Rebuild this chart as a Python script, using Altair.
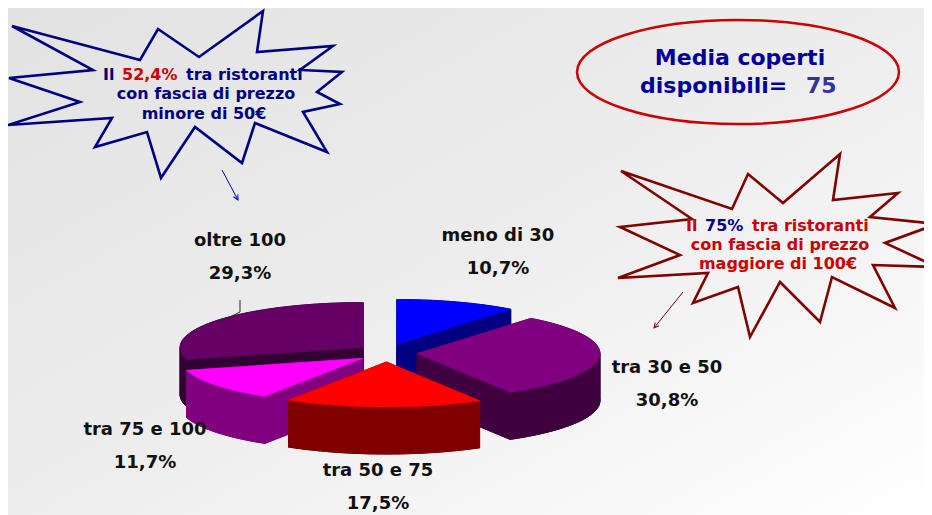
import altair as alt
import pandas as pd

# ---------------- data ----------------
categories = ["meno di 30", "tra 30 e 50", "tra 50 e 75", "tra 75 e 100", "oltre 100"]
shares = [10.7, 30.8, 17.5, 11.7, 29.3]
slice_order = [0, 1, 2, 3, 4]

# ---------------- styles / layout ----------------
TOP = ["#0000FF", "#800080", "#FF0000", "#FF00FF", "#660066"]
SIDE = ["#000080", "#400040", "#800000", "#800080", "#330033"]
DRAW_ORDER = [0, 4, 1, 3, 2]          # back to front
LABEL_X = [498, 667, 378, 145, 240]   # label centre x (page px)
LABEL_Y = [241, 373, 476, 435, 246]   # baseline of category line
LINE_GAP = 33

W, H = 916, 507
CX, CY, RX, RY = 387, 353, 183, 45
EX, EY = 30, 9
DEPTH = 47
N = 60
LABEL_FONT = "DejaVu Sans"
ANN_FONT = "DejaVu Sans"

X = alt.Scale(domain=[8, 8 + W], nice=False, zero=False)
Y = alt.Scale(domain=[8, 8 + H], nice=False, zero=False, reverse=True)

df = pd.DataFrame({"cat": categories, "share": shares, "idx": slice_order})
dummy = pd.DataFrame({"d": [0]})


def geom(ch):
    return (ch.transform_joinaggregate(total="sum(share)")
            .transform_window(cum="sum(share)", sort=[alt.SortField("idx")], frame=[None, 0])
            .transform_calculate(a0="2*PI*(datum.cum-datum.share)/datum.total")
            .transform_calculate(a1="2*PI*datum.cum/datum.total")
            .transform_calculate(mid="(datum.a0+datum.a1)/2")
            .transform_calculate(ox=f"{CX}+{EX}*sin(datum.mid)")
            .transform_calculate(oy=f"{CY}-{EY}*cos(datum.mid)"))


ANG = f"(datum.a0+(datum.k-1)*(datum.a1-datum.a0)/{N})"
APEX = f"(datum.k==0 || datum.k=={N + 2})"
VX = f"{APEX} ? datum.ox : datum.ox+{RX}*sin({ANG})"


def vy(dz):
    return f"({APEX} ? datum.oy : datum.oy-{RY}*cos({ANG})) + {dz}"


def enc(ch, **extra):
    return ch.encode(x=alt.X("px:Q", scale=X, axis=None),
                     y=alt.Y("py:Q", scale=Y, axis=None), **extra)


layers = []

# background gradient
layers.append(
    alt.Chart(dummy).mark_rect(
        fill=alt.LinearGradient(
            gradient="linear", x1=0, y1=0, x2=1, y2=1,
            stops=[alt.GradientStop(color="#E2E2E2", offset=0),
                   alt.GradientStop(color="#EDEDED", offset=0.5),
                   alt.GradientStop(color="#FFFFFF", offset=1)]),
        stroke=None
    ).encode(x=alt.value(0), x2=alt.value(W), y=alt.value(0), y2=alt.value(H))
)

for i in DRAW_ORDER:
    base = geom(alt.Chart(df)).transform_filter(f"datum.idx=={i}")
    # bottom face
    bottom = (base.transform_calculate(k=f"sequence(0,{N + 3})").transform_flatten(["k"])
              .transform_calculate(px=VX).transform_calculate(py=vy(DEPTH))
              .mark_line(fill=SIDE[i], stroke=SIDE[i], strokeWidth=1))
    layers.append(enc(bottom, order="k:Q"))
    # side walls (one quad per polygon edge)
    walls = (base.transform_calculate(e=f"sequence(0,{N + 2})").transform_flatten(["e"])
             .transform_calculate(c="sequence(0,4)").transform_flatten(["c"])
             .transform_calculate(k=f"(datum.c==0||datum.c==3) ? datum.e : (datum.e+1)%{N + 2}")
             .transform_calculate(dz=f"datum.c>=2 ? {DEPTH} : 0")
             .transform_calculate(px=VX).transform_calculate(py=vy("datum.dz"))
             .mark_line(fill=SIDE[i], stroke=SIDE[i], strokeWidth=1))
    layers.append(enc(walls, detail="e:Q", order="c:Q"))
    # top face
    top = (base.transform_calculate(k=f"sequence(0,{N + 3})").transform_flatten(["k"])
           .transform_calculate(px=VX).transform_calculate(py=vy(0))
           .mark_line(fill=TOP[i], stroke=TOP[i], strokeWidth=0.6))
    layers.append(enc(top, order="k:Q"))

# slice labels
lab_df = pd.DataFrame({"cat": categories, "share": shares, "lx": LABEL_X, "ly": LABEL_Y})
lab_base = alt.Chart(lab_df)
layers.append(
    lab_base.mark_text(font=LABEL_FONT, fontSize=18, fontWeight="bold", color="#111111",
                       align="center", baseline="alphabetic")
    .encode(x=alt.X("lx:Q", scale=X, axis=None), y=alt.Y("ly:Q", scale=Y, axis=None), text="cat:N")
)
layers.append(
    lab_base.transform_calculate(ly2=f"datum.ly+{LINE_GAP}")
    .transform_calculate(pct="replace(format(datum.share,'.1f'),'.',',')+'%'")
    .mark_text(font=LABEL_FONT, fontSize=18, fontWeight="bold", color="#111111",
               align="center", baseline="alphabetic")
    .encode(x=alt.X("lx:Q", scale=X, axis=None), y=alt.Y("ly2:Q", scale=Y, axis=None), text="pct:N")
)


def shape_path(pts, cx, cy):
    s = "M " + " L ".join(f"{x - cx} {y - cy}" for x, y in pts) + " Z"
    return s


def symbol(path, x, y, color, width, size=4, angle=0):
    return alt.Chart(dummy).mark_point(shape=path, size=size, filled=False, stroke=color,
                                       strokeWidth=width, opacity=1, angle=angle,
                                       strokeJoin="miter").encode(
        x=alt.value(x - 8), y=alt.value(y - 8))


def txt(s, x, y, color, size, align="left", font=ANN_FONT):
    return alt.Chart(dummy).mark_text(text=s, font=font, fontSize=size, fontWeight="bold",
                                      color=color, align=align, baseline="alphabetic").encode(
        x=alt.value(x - 8), y=alt.value(y - 8))


STAR1 = [(12, 26), (140, 60), (158, 29), (199, 57), (263, 11), (257, 52), (333, 46), (300, 70),
         (342, 72), (317, 92), (340, 104), (303, 112), (327, 152), (255, 123), (242, 163),
         (195, 127), (161, 178), (147, 132), (95, 147), (112, 118), (8, 125), (80, 102),
         (9, 78), (93, 70)]
STAR2 = [(621, 171), (732, 209), (748, 174), (783, 203), (840, 154), (833, 200), (898, 193),
         (870, 217), (937, 224), (885, 243), (937, 267), (873, 265), (895, 308), (832, 277),
         (820, 322), (780, 282), (750, 337), (738, 287), (693, 303), (708, 273), (618, 278),
         (680, 255), (620, 227), (692, 219)]

layers.append(symbol(shape_path(STAR1, 175, 95), 175, 95, "#000080", 2.6))
layers.append(symbol(shape_path(STAR2, 778, 245), 778, 245, "#800000", 2.6))

# ellipse
layers.append(symbol("M -161 0 A 161 52 0 1 0 161 0 A 161 52 0 1 0 -161 0 Z", 738, 72, "#CC0000", 2.5))

# arrows
ARROW_HEAD = "M -0.5 1 L 0 0 L 0.5 1"
layers.append(alt.Chart(dummy).mark_rule(color="#0000CC", strokeWidth=1).encode(
    x=alt.value(222 - 8), y=alt.value(170 - 8), x2=alt.value(238 - 8), y2=alt.value(200 - 8)))
layers.append(symbol(ARROW_HEAD, 238, 200, "#0000CC", 1, size=100, angle=152))
layers.append(alt.Chart(dummy).mark_rule(color="#800000", strokeWidth=1).encode(
    x=alt.value(683 - 8), y=alt.value(292 - 8), x2=alt.value(654 - 8), y2=alt.value(328 - 8)))
layers.append(symbol(ARROW_HEAD, 654, 328, "#800000", 1, size=100, angle=219))

# leader line for "oltre 100"
layers.append(alt.Chart(dummy).mark_rule(color="#222222", strokeWidth=1).encode(
    x=alt.value(240 - 8), y=alt.value(300 - 8), x2=alt.value(240 - 8), y2=alt.value(312 - 8)))
layers.append(alt.Chart(dummy).mark_rule(color="#222222", strokeWidth=1).encode(
    x=alt.value(240 - 8), y=alt.value(312 - 8), x2=alt.value(220 - 8), y2=alt.value(322 - 8)))

# star 1 text
NAVY = "#000080"
RED = "#CC0000"
layers += [
    txt("Il", 103, 80, NAVY, 16),
    txt("52,4%", 122, 80, RED, 16),
    txt("tra ristoranti", 186, 80, NAVY, 16),
    txt("con fascia di prezzo", 206, 99, NAVY, 16, align="center"),
    txt("minore di 50€", 204, 119, NAVY, 16, align="center"),
]
# star 2 text
layers += [
    txt("Il", 686, 231, RED, 16),
    txt("75%", 705, 231, "#000099", 16),
    txt("tra ristoranti", 752, 231, RED, 16),
    txt("con fascia di prezzo", 780, 250, RED, 16, align="center"),
    txt("maggiore di 100€", 778, 269, RED, 16, align="center"),
]
# ellipse text
layers += [
    txt("Media coperti", 740, 65, "#000099", 22, align="center"),
    txt("disponibili=", 640, 93, "#000099", 22),
    txt("75", 806, 93, "#333399", 22),
]

chart = alt.layer(*layers).properties(
    width=W, height=H, padding=0, autosize="none", background="white"
).configure_view(stroke=None)

chart.save("out.html", embed_options={"renderer": "svg", "actions": False})
